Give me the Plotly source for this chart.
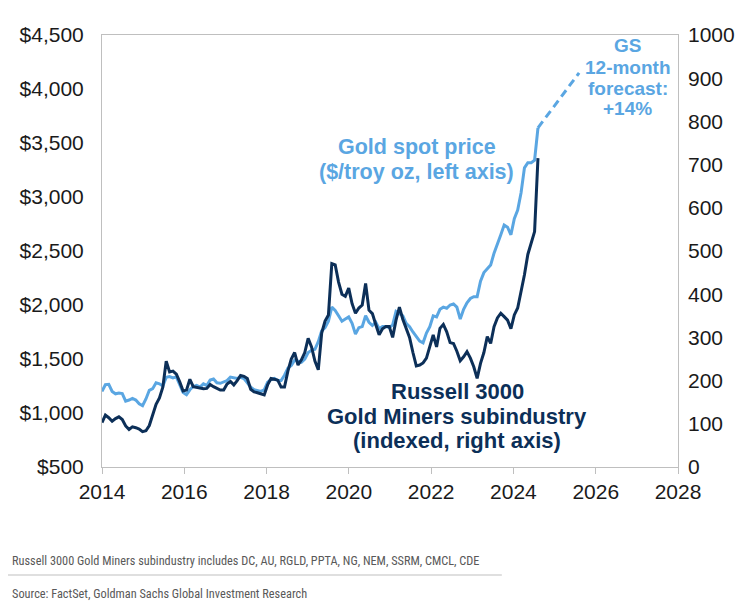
import pandas as pd
import plotly.graph_objects as go

# ---------------- data ----------------
start_date = "2014-01-01"
step = "30D"

gold_spot = [
    1200, 1262, 1265, 1200, 1178, 1185, 1180, 1110, 1120, 1135, 1120, 1085,
    1068, 1130, 1210, 1225, 1280, 1270, 1250, 1330, 1338, 1325, 1335, 1260,
    1190, 1170, 1215, 1245, 1255, 1240, 1270, 1255, 1305, 1315, 1280, 1275,
    1290, 1300, 1333, 1328, 1320, 1330, 1318, 1280, 1240, 1215, 1205, 1200,
    1215, 1285, 1310, 1320, 1300, 1300, 1350, 1415, 1440, 1490, 1480, 1470,
    1500, 1560, 1580, 1590, 1660, 1760, 1790, 1850, 1980, 1950, 1900, 1850,
    1870, 1890, 1830, 1730, 1790, 1800, 1900, 1840, 1810, 1840, 1780, 1800,
    1800, 1790, 1815, 1940, 1920, 1900, 1830, 1800, 1750, 1710, 1665, 1650,
    1740, 1800, 1900, 1890, 1960, 1980, 1970, 2000, 2010, 1980, 1870, 1960,
    2020, 2060, 2077, 2077, 2220, 2300, 2335, 2370, 2480, 2560, 2650, 2740,
    2720, 2650, 2800, 2880, 3040, 3270, 3318, 3318, 3340, 3640,
]

gold_miners = [
    103, 120, 114, 106, 112, 116, 110, 95, 87, 93, 91, 88,
    82, 84, 96, 120, 145, 160, 185, 245, 220, 222, 215, 197,
    176, 178, 203, 186, 184, 182, 181, 182, 191, 186, 182, 178,
    178, 192, 198, 190, 200, 212, 210, 205, 180, 174, 172, 170,
    167, 190, 205, 203, 201, 185, 185, 222, 250, 265, 236, 248,
    265, 298, 278, 245, 225, 310, 338, 352, 471, 468, 428, 400,
    395, 414, 378, 356, 368, 375, 425, 363, 355, 330, 306, 320,
    325, 325, 300, 340, 370, 342, 320, 300, 265, 234, 236, 241,
    252, 280, 306, 278, 321, 330, 313, 288, 286, 268, 246, 255,
    267, 252, 232, 205, 240, 265, 302, 286, 325, 345, 356, 348,
    340, 320, 352, 368, 405, 445, 492, 520, 545, 715,
]

forecast_pct = 14
forecast_horizon = pd.DateOffset(years=1)

x_ticks = [2014, 2016, 2018, 2020, 2022, 2024, 2026, 2028]
left_ticks = [500, 1000, 1500, 2000, 2500, 3000, 3500, 4000, 4500]
right_ticks = [0, 100, 200, 300, 400, 500, 600, 700, 800, 900, 1000]

gold_label = ["Gold spot price", "($/troy oz, left axis)"]
miners_label = ["Russell 3000", "Gold Miners subindustry", "(indexed, right axis)"]
forecast_label = ["GS", "12-month", "forecast:", f"+{forecast_pct}%"]
notes = [
    "Russell 3000 Gold Miners subindustry includes DC, AU, RGLD, PPTA, NG, NEM, SSRM, CMCL, CDE",
    "Source: FactSet, Goldman Sachs Global Investment Research",
]

# ---------------- figure ----------------
dates = pd.date_range(start_date, periods=len(gold_spot), freq=step)
fc_dates = [dates[-1], dates[-1] + forecast_horizon]
fc_vals = [gold_spot[-1], gold_spot[-1] * (1 + forecast_pct / 100)]

LIGHT = "#5AA6E2"
DARK = "#0C2F58"
AXIS = "#BFBFBF"
FONT = "Arial, Liberation Sans, sans-serif"

# plot area in page pixels (page has an 8px body offset)
PL, PR, PT, PB = 96, 678, 35, 467
OFF = 8
W, H = 751, 608


def px(xp):
    return (xp - PL) / (PR - PL)


def py(yp):
    return (PB - yp) / (PB - PT)


fig = go.Figure()
fig.add_trace(go.Scatter(x=dates, y=gold_spot, mode="lines",
                         line=dict(color=LIGHT, width=3), yaxis="y",
                         showlegend=False))
fig.add_trace(go.Scatter(x=fc_dates, y=fc_vals, mode="lines",
                         line=dict(color=LIGHT, width=3, dash="8px,5px"),
                         yaxis="y", showlegend=False))
fig.add_trace(go.Scatter(x=dates, y=gold_miners, mode="lines",
                         line=dict(color=DARK, width=3), yaxis="y2",
                         showlegend=False))

fig.update_layout(
    width=W, height=H,
    margin=dict(l=PL - OFF, r=W - PR + OFF, t=PT - OFF, b=H - PB + OFF),
    paper_bgcolor="white", plot_bgcolor="white",
    font=dict(family=FONT, color="#1a1a1a"),
    xaxis=dict(
        type="date",
        range=[f"{x_ticks[0]}-01-01", f"{x_ticks[-1]}-01-01"],
        tickvals=[f"{y}-01-01" for y in x_ticks],
        ticktext=[str(y) for y in x_ticks],
        showgrid=False, zeroline=False,
        showline=True, linecolor=AXIS, linewidth=1, mirror=True,
        ticks="outside", ticklen=6, tickcolor=AXIS,
        tickfont=dict(size=21, color="#1a1a1a"),
    ),
    yaxis=dict(
        range=[left_ticks[0], left_ticks[-1]],
        tickvals=left_ticks,
        ticktext=[f"${v:,}" for v in left_ticks],
        showgrid=False, zeroline=False,
        showline=True, linecolor=AXIS, linewidth=1, mirror=True,
        ticks="", ticklabelstandoff=13,
        tickfont=dict(size=21, color="#1a1a1a"),
    ),
    yaxis2=dict(
        range=[right_ticks[0], right_ticks[-1]],
        tickvals=right_ticks,
        overlaying="y", side="right",
        showgrid=False, zeroline=False, showline=False,
        ticks="", ticklabelstandoff=9,
        tickfont=dict(size=21, color="#1a1a1a"),
    ),
)


def add_lines(lines, cx, ys, size, color):
    for t, yy in zip(lines, ys):
        fig.add_annotation(xref="paper", yref="paper", x=px(cx), y=py(yy),
                           text=f"<b>{t}</b>", showarrow=False,
                           xanchor="center", yanchor="middle",
                           font=dict(size=size, color=color, family=FONT))


add_lines(gold_label, 414, [147, 172], 21.5, LIGHT)
add_lines(miners_label, 455, [391, 416, 440], 22, DARK)
add_lines(forecast_label, 627, [46, 67, 88, 108], 19, LIGHT)

NOTE_FONT = "Liberation Sans Narrow, Arial Narrow, Roboto Condensed, Liberation Sans, sans-serif"
for t, yy in zip(notes, [561, 594]):
    fig.add_annotation(xref="paper", yref="paper", x=px(3), y=py(yy),
                       xanchor="left", yanchor="middle", showarrow=False,
                       text=t, font=dict(size=12.3, color="#595959", family=NOTE_FONT))
fig.add_shape(type="line", xref="paper", yref="paper",
              x0=px(0), x1=px(500), y0=py(575), y1=py(575),
              line=dict(color="#BFBFBF", width=1))

fig.write_html("out.html")
